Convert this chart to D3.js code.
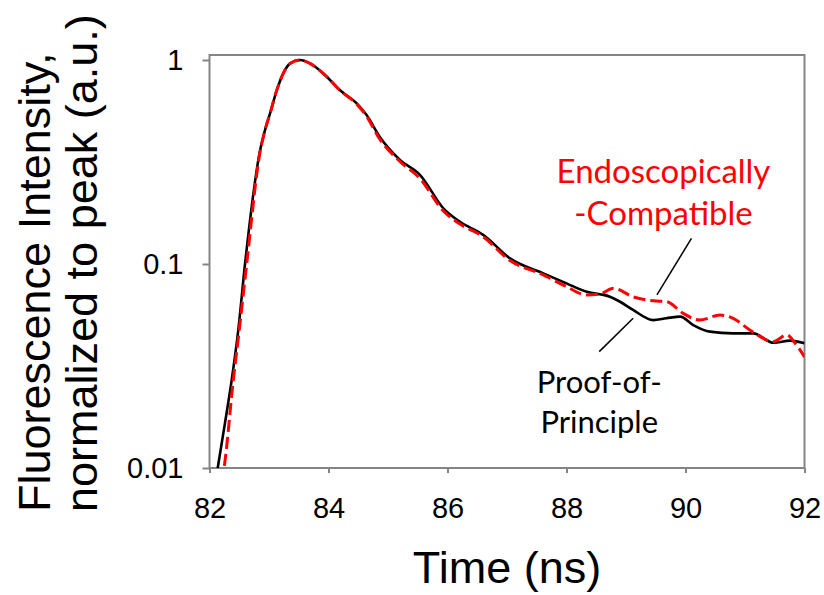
<!DOCTYPE html>
<html>
<head>
<meta charset="utf-8">
<script src="https://cdn.jsdelivr.net/npm/d3@7"></script>
<style>
  body { margin: 0; background: #fff; }
  .tick text { font-family: "Liberation Sans", Arial, sans-serif; font-size: 29px; fill: #000; }
  .axisTitle { font-family: "Liberation Sans", Arial, sans-serif; font-size: 45px; fill: #000; }
  .note { font-family: Lato, "Open Sans", sans-serif; font-size: 31px; }
  .note.red { font-size: 33px; }
</style>
</head>
<body>
<div class="chart"></div>
<script>
// Data: time (ns) and normalized intensity
var timeBlack = [82.10, 82.138, 82.26, 82.373, 82.484, 82.597, 82.85, 82.93, 83.02, 83.13, 83.24, 83.35, 83.52,
  83.69, 83.97, 84.19, 84.47, 84.64, 84.86, 85.2, 85.54, 85.93, 86.21, 86.6, 87.05, 87.61, 88.0, 88.34,
  88.73, 88.9, 89.12, 89.46, 89.68, 89.91, 90.13, 90.41, 90.8, 91.14, 91.48, 91.76, 92.0];
var valBlack = [0.0085, 0.01, 0.0166, 0.027, 0.0475, 0.10, 0.36, 0.45, 0.55, 0.71, 0.86, 0.96, 1.0,
  0.963, 0.828, 0.713, 0.614, 0.537, 0.421, 0.324, 0.273, 0.1875, 0.161, 0.139, 0.1066, 0.09, 0.0804, 0.0731,
  0.0691, 0.0653, 0.0595, 0.0531, 0.0542, 0.0552, 0.0502, 0.0466, 0.0457, 0.0457, 0.0411, 0.0421, 0.0409];

var timeRed = [82.20, 82.244, 82.4, 82.5, 82.625, 82.85, 82.93, 83.02, 83.13, 83.24, 83.35, 83.52,
  83.69, 83.97, 84.19, 84.47, 84.64, 84.86, 85.2, 85.54, 85.93, 86.21, 86.6, 87.05, 87.61, 88.0, 88.34,
  88.56, 88.79, 89.12, 89.46, 89.68, 89.96, 90.24, 90.58, 90.8, 91.08, 91.48, 91.7, 91.84, 92.0];
var valRed = [0.0085, 0.01, 0.027, 0.0475, 0.10, 0.355, 0.45, 0.55, 0.71, 0.86, 0.96, 1.0,
  0.96, 0.83, 0.71, 0.61, 0.53, 0.41, 0.318, 0.262, 0.182, 0.157, 0.136, 0.104, 0.0885, 0.0775, 0.0705,
  0.0713, 0.076, 0.069, 0.066, 0.0654, 0.0573, 0.0531, 0.0562, 0.0542, 0.0475, 0.0417, 0.0449, 0.041, 0.035];

// Axis ticks
var xTicks = [82, 84, 86, 88, 90, 92];
var yTicks = [0.01, 0.1, 1];
var yTickLabels = ["0.01", "0.1", "1"];

// Annotation text and leader lines (in data units)
var redLabel = ["Endoscopically", "-Compatible"];
var blackLabel = ["Proof-of-", "Principle"];
var redLeader = [[90.10, 0.1336], [89.52, 0.0705]];
var blackLeader = [[89.12, 0.0542], [88.55, 0.0372]];

var svgWidth = 824;
var svgHeight = 595;
var margin = { top: 55, right: 19.5, bottom: 127, left: 209.5 };
var width = svgWidth - margin.left - margin.right;
var height = svgHeight - margin.top - margin.bottom;

var svg = d3.select(".chart")
  .append("svg")
  .attr("width", svgWidth)
  .attr("height", svgHeight);

svg.append("rect").attr("width", svgWidth).attr("height", svgHeight).attr("fill", "#fff");

var chart = svg.append("g")
  .attr("transform", "translate(" + margin.left + ", " + margin.top + ")");

var x = d3.scaleLinear().domain([82, 92]).range([0, width]);
// the "1" tick sits a few pixels under the top of the frame
var y = d3.scaleLog().domain([0.01, 1]).range([height, 5]);

var bottomAxis = d3.axisBottom(x).tickValues(xTicks).tickSize(5).tickPadding(24).tickFormat(d3.format("d"));
var leftAxis = d3.axisLeft(y).tickValues(yTicks).tickSize(7).tickPadding(19)
  .tickFormat(function(d, i) { return yTickLabels[i]; });

var gx = chart.append("g").attr("transform", "translate(0, " + height + ")").call(bottomAxis);
var gy = chart.append("g").call(leftAxis);
[gx, gy].forEach(function(g) {
  g.select(".domain").remove();
  g.selectAll(".tick line").attr("stroke", "#858585").attr("stroke-width", 2);
});

// plot frame
chart.append("rect")
  .attr("width", width)
  .attr("height", height)
  .attr("fill", "none")
  .attr("stroke", "#858585")
  .attr("stroke-width", 2);

chart.append("clipPath").attr("id", "clip")
  .append("rect").attr("width", width).attr("height", height);

var line = d3.line()
  .x(function(d) { return x(d[0]); })
  .y(function(d) { return y(d[1]); })
  .curve(d3.curveMonotoneX);

var blackData = timeBlack.map(function(t, i) { return [t, valBlack[i]]; });
var redData = timeRed.map(function(t, i) { return [t, valRed[i]]; });

var plot = chart.append("g").attr("clip-path", "url(#clip)");
plot.append("path").attr("d", line(blackData))
  .attr("fill", "none").attr("stroke", "#000").attr("stroke-width", 2.6);
plot.append("path").attr("d", line(redData))
  .attr("fill", "none").attr("stroke", "#ff0000").attr("stroke-width", 3)
  .attr("stroke-dasharray", "12,5");

// leader lines
[redLeader, blackLeader].forEach(function(seg) {
  chart.append("line")
    .attr("x1", x(seg[0][0])).attr("y1", y(seg[0][1]))
    .attr("x2", x(seg[1][0])).attr("y2", y(seg[1][1]))
    .attr("stroke", "#000").attr("stroke-width", 1.5);
});

// annotations
chart.append("text").attr("class", "note red").attr("fill", "#ff0000")
  .attr("text-anchor", "middle")
  .selectAll("tspan").data(redLabel).enter().append("tspan")
  .attr("x", x(89.63))
  .attr("y", function(d, i) { return y(i === 0 ? 0.249 : 0.155); })
  .text(function(d) { return d; });

chart.append("text").attr("class", "note").attr("fill", "#000")
  .attr("text-anchor", "middle")
  .selectAll("tspan").data(blackLabel).enter().append("tspan")
  .attr("x", x(88.55))
  .attr("y", function(d, i) { return y(i === 0 ? 0.0232 : 0.0148); })
  .text(function(d) { return d; });

// axis titles
svg.append("text").attr("class", "axisTitle")
  .attr("x", margin.left + width / 2)
  .attr("y", 583)
  .attr("text-anchor", "middle")
  .text("Time (ns)");

var yTitle = svg.append("text").attr("class", "axisTitle")
  .attr("transform", "rotate(-90)")
  .attr("text-anchor", "start");
yTitle.append("tspan").attr("x", -512).attr("y", 50).text("Fluorescence Intensity,");
yTitle.append("tspan").attr("x", -512).attr("y", 97).text("normalized to peak (a.u.)");
</script>
</body>
</html>
